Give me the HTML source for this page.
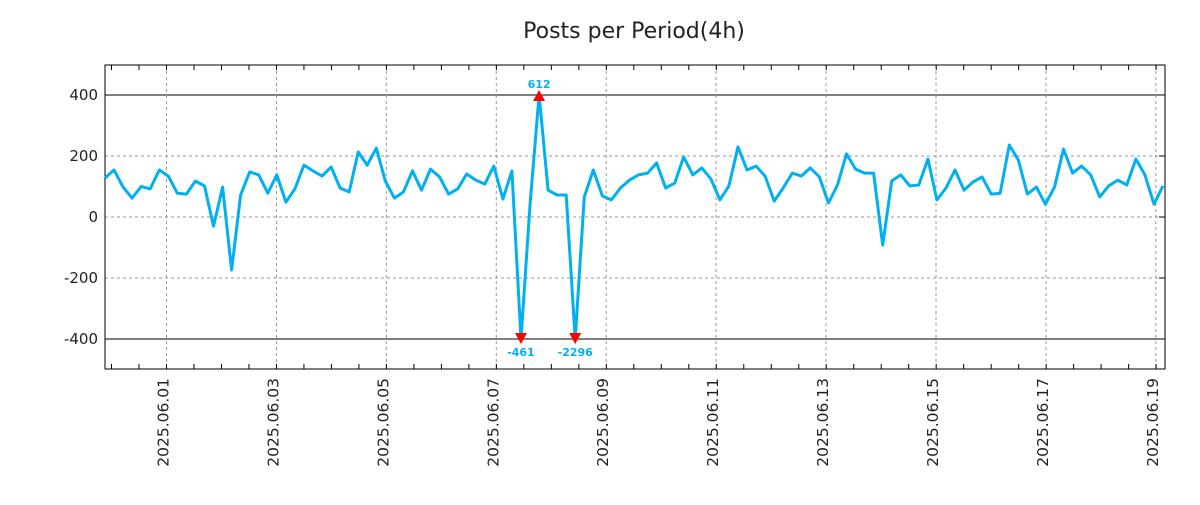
<!DOCTYPE html>
<html><head><meta charset="utf-8"><style>
body{margin:0;background:#fff;}
svg text{font-family:"DejaVu Sans","Liberation Sans",sans-serif;}
</style></head><body>
<svg id="chart" width="1200" height="500" xmlns="http://www.w3.org/2000/svg">
<text x="634" y="38" font-size="22" text-anchor="middle" fill="#222">Posts per Period(4h)</text>
<g id="grid"></g><g id="axes"></g><g id="series"></g><g id="marks"></g>
</svg>
<script>
const values=[128,154,98,62,100,92,154,134,78,75,118,102,-30,98,-174,72,148,138,78,138,49,92,170,151,134,164,95,82,213,170,226,118,62,82,151,88,157,131,75,92,141,121,108,167,59,151,-461,39,612,88,72,72,-2296,66,154,69,56,95,121,138,144,177,95,111,197,138,161,125,56,102,230,154,167,134,52,95,144,134,161,131,46,105,207,157,144,144,-92,118,138,102,105,190,56,95,154,88,115,131,75,78,236,187,75,98,42,98,223,144,167,138,66,102,121,105,190,138,42,102];
const yTicks=[400,200,0,-200,-400];
const dateLabels=["2025.06.01","2025.06.03","2025.06.05","2025.06.07","2025.06.09","2025.06.11","2025.06.13","2025.06.15","2025.06.17","2025.06.19"];
const dateIdx=[6.80,18.96,31.11,43.27,55.43,67.58,79.74,91.90,104.06,116.21];
const extremes=[{i:46,label:"-461",dir:-1},{i:48,label:"612",dir:1},{i:52,label:"-2296",dir:-1}];
const L=105,R=1165,T=65,B=369;
const xS=i=>105+i*(1058/(values.length-1));
const yS=v=>217-(v)*0.305;
const clamp=v=>Math.max(-400,Math.min(400,v));
const NS="http://www.w3.org/2000/svg";
function mk(parent,tag,attrs){const e=document.createElementNS(NS,tag);for(const k in attrs)e.setAttribute(k,attrs[k]);document.getElementById(parent).appendChild(e);return e;}
yTicks.forEach(v=>{
 const solid=Math.abs(v)===400;
 const g=mk('grid','line',{x1:L,x2:R,y1:yS(v),y2:yS(v),stroke:solid?'#000':'#999','stroke-width':1,'stroke-dasharray':solid?'':'3,3'});
 
 
 const t=mk('axes','text',{x:98,y:yS(v)+5,'font-size':15,'text-anchor':'end',fill:'#222'});
 t.textContent=v;
 
 
 const tk=mk('axes','line',{x1:R-6,x2:R,y1:yS(v),y2:yS(v),stroke:'#000'});
 
 
});
dateLabels.forEach((d,k)=>{
 const x=xS(dateIdx[k]);
 const g=mk('grid','line',{x1:x,x2:x,y1:T,y2:B,stroke:'#999','stroke-dasharray':'3,3'});
 
 
 const t=mk('axes','text',{transform:`translate(${x+2},378) rotate(-90)`,'font-size':15.5,'text-anchor':'end',fill:'#222'});
 t.textContent=d;
 
 
});
for(let k=0;k<40;k++){
 const x=xS(dateIdx[0])+(k-2)*(xS(dateIdx[1])-xS(dateIdx[0]))/4;
 if(x<L||x>R)continue;
 const a=mk('axes','line',{x1:x,x2:x,y1:T,y2:T+5,stroke:'#000'});
 
 
 const b=mk('axes','line',{x1:x,x2:x,y1:B-5,y2:B,stroke:'#000'});
 
 
}
const frame=mk('axes','rect',{x:L,y:T,width:R-L,height:B-T,fill:'none',stroke:'#000','stroke-width':1});


const pts=values.map((v,i)=>xS(i).toFixed(1)+','+yS(clamp(v)).toFixed(1)).join(' ');
const line=mk('series','polyline',{points:pts,fill:'none',stroke:'#00b0f0','stroke-width':3,'stroke-linejoin':'round'});


extremes.forEach(e=>{
 const x=xS(e.i),y=yS(clamp(values[e.i]));
 const p=e.dir>0?`${x-6},${y+6} ${x+6},${y+6} ${x},${y-5}`:`${x-6},${y-6} ${x+6},${y-6} ${x},${y+5}`;
 const m=mk('marks','polygon',{points:p,fill:'#ff0000'});
 
 
 const t=mk('marks','text',{x:x,y:e.dir>0?y-7:y+17,'font-size':11,'font-weight':'bold','text-anchor':'middle',fill:'#00b0f0'});
 t.textContent=e.label;
 
 
});
</script>
</body></html>
